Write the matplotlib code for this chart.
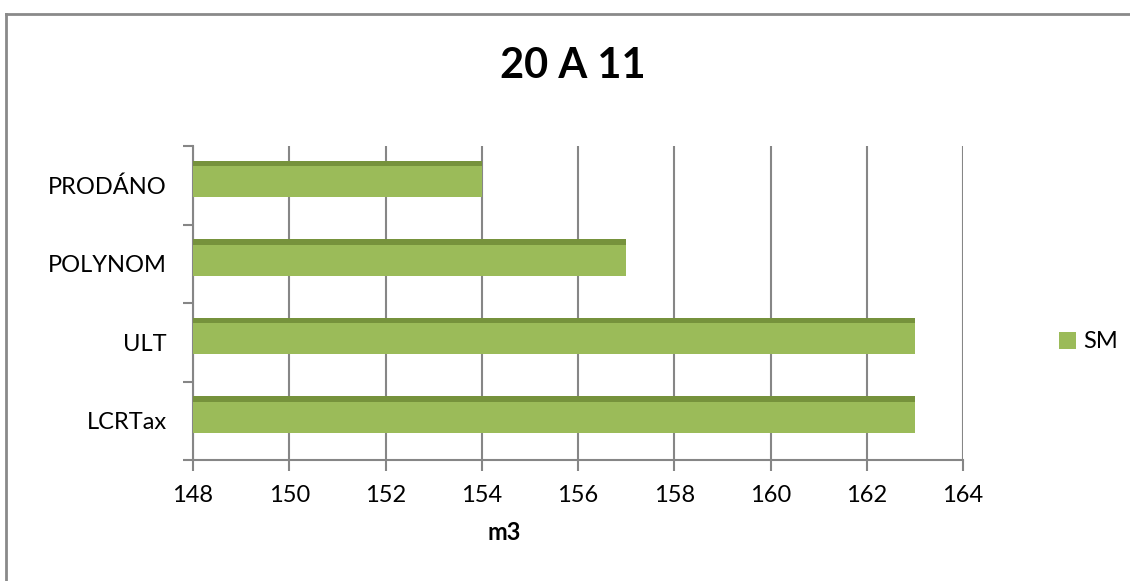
import matplotlib.pyplot as plt
from matplotlib.lines import Line2D
from matplotlib.patches import Patch

# data (bottom to top)
categories = ['LCRTax', 'ULT', 'POLYNOM', 'PRODÁNO']
sm_values = [163, 163, 157, 154]
x_ticks = [148, 150, 152, 154, 156, 158, 160, 162, 164]

plt.rcParams['font.family'] = ['Lato', 'DejaVu Sans']

fig = plt.figure(figsize=(11.3, 5.81), dpi=100)
ax = fig.add_axes([193 / 1130, 1 - 460 / 581, 770 / 1130, 314 / 581])

green = '#9BBB59'
dark_green = '#76923C'
grid_col = '#868686'

pos = list(range(len(categories)))
bar_h = 0.46
offset = 0.08
# main bar
ax.barh([p + offset for p in pos], [v - 148 for v in sm_values], left=148,
        height=bar_h, color=green, edgecolor='none', zorder=3)
# darker top strip, like the excel bevel
strip = 0.065
ax.barh([p + offset + bar_h / 2 - strip / 2 for p in pos], [v - 148 for v in sm_values],
        left=148, height=strip, color=dark_green, edgecolor='none', zorder=4)

ax.set_xlim(148, 164)
ax.set_ylim(-0.5, len(categories) - 0.5)
ax.set_xticks(x_ticks)
ax.set_xticklabels([str(t) for t in x_ticks], fontsize=17)
ax.set_yticks(pos)
ax.set_yticklabels(categories, fontsize=17)
ax.set_yticks([p - 0.5 for p in pos] + [len(categories) - 0.5], minor=True)
ax.tick_params(axis='y', which='major', length=0, pad=19)
ax.tick_params(axis='y', which='minor', length=7, width=1.5, color=grid_col)
ax.tick_params(axis='x', length=8, width=1.5, color=grid_col, pad=10)

ax.grid(axis='x', color=grid_col, linewidth=1.5, zorder=0)
ax.set_axisbelow(True)
for s in ['top', 'right']:
    ax.spines[s].set_visible(False)
for s in ['left', 'bottom']:
    ax.spines[s].set_color(grid_col)
    ax.spines[s].set_linewidth(1.5)

fig.text(573 / 1130, 1 - 66 / 581, '20 A 11', fontsize=30, fontweight='bold',
         ha='center', va='center')
fig.text(504 / 1130, 1 - 532 / 581, 'm3', fontsize=17, fontweight='bold',
         ha='center', va='center')

handles = [Patch(facecolor=green, edgecolor='none', label='SM')]
fig.legend(handles=handles, loc='center left', bbox_to_anchor=(1050 / 1130, 1 - 342 / 581),
           frameon=False, fontsize=17, handlelength=0.7, handleheight=0.7,
           handletextpad=0.3, borderaxespad=0)

# chart border (only top and left visible in the crop)
fig.add_artist(Line2D([6 / 1130, 6 / 1130], [0, 1 - 14 / 581], transform=fig.transFigure,
                      color='#8a8a8a', linewidth=2))
fig.add_artist(Line2D([6 / 1130, 1], [1 - 14 / 581, 1 - 14 / 581], transform=fig.transFigure,
                      color='#8a8a8a', linewidth=2))

fig.savefig('out.png', dpi=100)
